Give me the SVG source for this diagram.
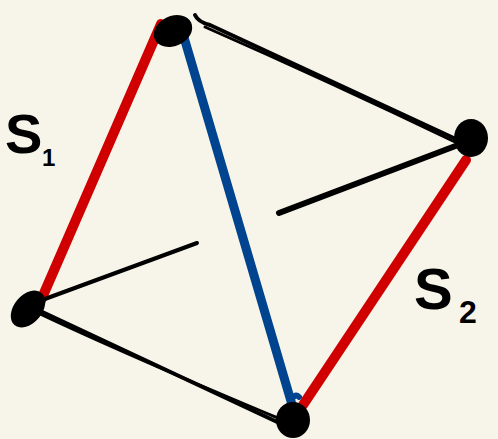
<svg xmlns="http://www.w3.org/2000/svg" width="498" height="439" viewBox="0 0 498 439">
<style>
.ed{fill:none;stroke-linecap:round;stroke-linejoin:round}
.blk{stroke:#000}
.red{stroke:#d00000}
.blu{stroke:#00438f}
.v{fill:#000}
.lbl{font-family:"Liberation Sans",Arial,sans-serif;font-weight:bold;fill:#000}
</style>
<rect width="498" height="439" fill="#f7f5ea"/>
<g id="connectors">
<path class="ed red" stroke-width="10" d="M161,24 L35,314"/>
<path class="ed red" stroke-width="10" d="M466,160 L303,405"/>
<path class="ed blu" stroke-width="9" d="M183,34 L293,408"/>
<path class="ed blu" stroke-width="6" d="M290,404 Q294,392 299,397"/>
<path class="ed blk" stroke-width="4" d="M195,15 Q198,22 210,25 L458,140"/>
<path class="ed blk" stroke-width="3" d="M205,27 Q330,82 455,142"/>
<path class="ed blk" stroke-width="6" d="M466,142 L279,213"/>
<path class="ed blk" stroke-width="4" d="M34,303 L197,243"/>
<path class="ed blk" stroke-width="4" d="M36,309 L290,428"/>
<path class="ed blk" stroke-width="3" d="M38,313 Q120,352 285,421"/>
</g>
<g id="vA"><ellipse class="v" cx="173" cy="31" rx="20" ry="15" transform="rotate(-25 173 31)"/></g>
<g id="vB"><ellipse class="v" cx="471" cy="138" rx="17" ry="19"/></g>
<g id="vC"><ellipse class="v" cx="28" cy="309" rx="21" ry="14" transform="rotate(-50 28 309)"/></g>
<g id="vD"><ellipse class="v" cx="293" cy="420" rx="17" ry="18"/></g>
<g id="labels">
<text class="lbl" x="5" y="153" font-size="56">S</text>
<text class="lbl" x="42" y="166" font-size="24">1</text>
<text class="lbl" x="414" y="309" font-size="58">S</text>
<text class="lbl" x="459" y="323" font-size="32">2</text>
</g>
</svg>
